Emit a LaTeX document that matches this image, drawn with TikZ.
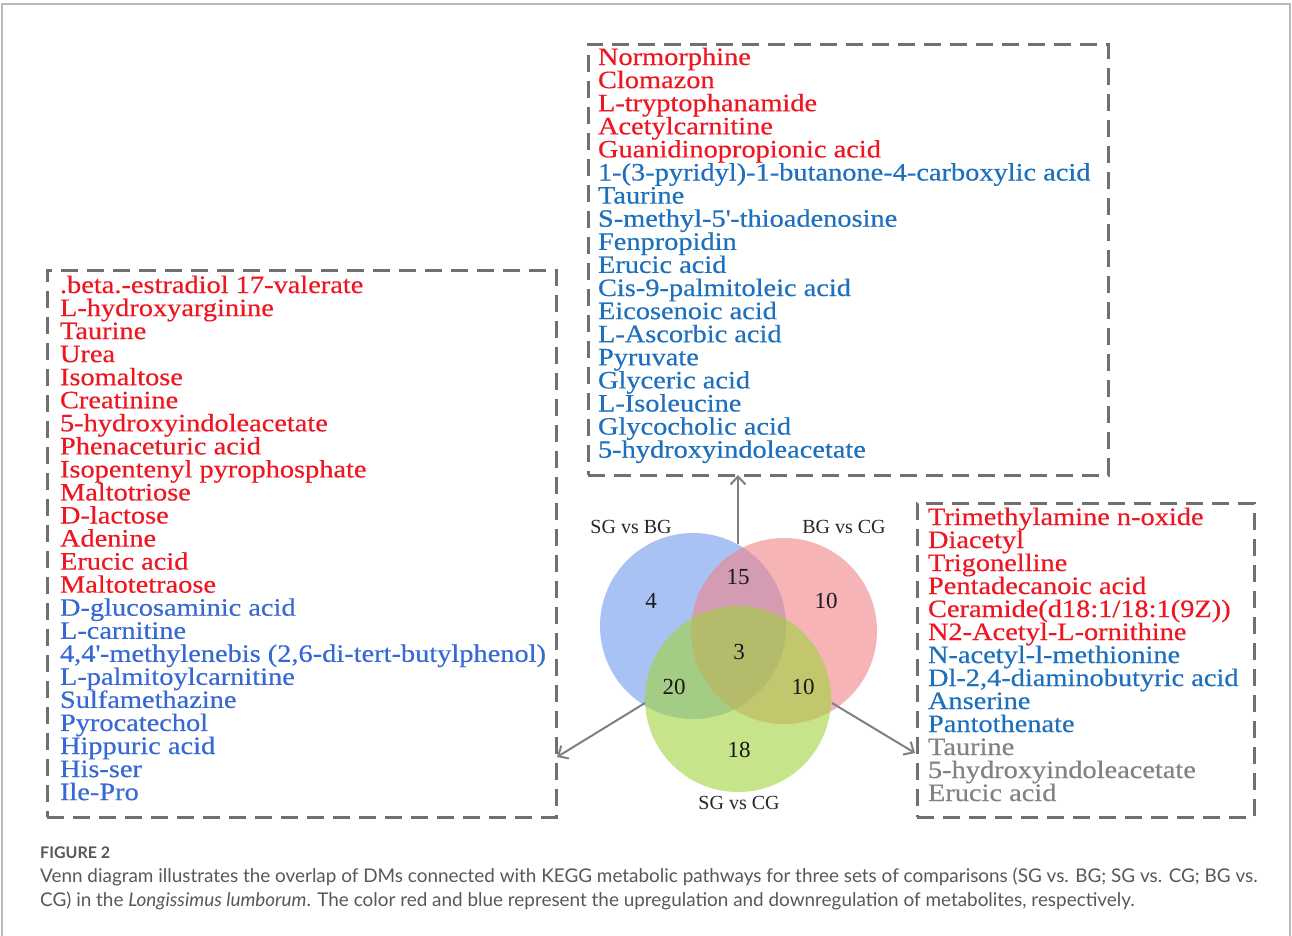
\documentclass[tikz,border=0pt]{standalone}
\usepackage{fontspec}
\setmainfont{Liberation Serif}
\newfontfamily\listfont[FakeStretch=1.135,FakeBold=0.4]{Liberation Serif}
\newfontfamily\capfont{Lato}
\usetikzlibrary{arrows.meta}
\definecolor{upred}{RGB}{238,22,32}
\definecolor{dnblue}{RGB}{28,112,190}
\definecolor{dnblueL}{RGB}{55,105,212}
\definecolor{txtgray}{RGB}{130,130,130}
\definecolor{boxgray}{RGB}{112,112,112}
\definecolor{arrgray}{RGB}{128,128,128}
\definecolor{framegray}{RGB}{185,185,185}
\definecolor{capgray}{RGB}{88,88,88}
\definecolor{vblue}{RGB}{110,155,235}
\definecolor{vred}{RGB}{240,130,135}
\definecolor{vgreen}{RGB}{160,210,60}
\tikzset{
  dbox/.style={draw=boxgray, line width=3pt, dash pattern=on 17pt off 9pt, inner sep=0pt, outer sep=0pt, anchor=north west},
  lst/.style={font=\listfont\fontsize{25}{25}\selectfont, inner sep=0pt, outer sep=0pt, anchor=base west},
  vlab/.style={font=\fontsize{20}{20}\selectfont, text=black!85, inner sep=0pt},
  vnum/.style={font=\fontsize{23}{23}\selectfont, text=black!90, inner sep=0pt},
  arr/.style={draw=arrgray, line width=2pt, -{Straight Barb[length=8pt,width=15pt,line width=2pt]}},
  capt/.style={font=\capfont\fontsize{18.9}{18.9}\selectfont, text=capgray, inner sep=0pt, anchor=base west}
}
\begin{document}
\begin{tikzpicture}[x=1pt,y=-1pt]
\useasboundingbox (0,0) rectangle (1292,935);
\clip (0,0) rectangle (1292,935);
\fill[white] (0,0) rectangle (1292,935);
\draw[framegray, line width=1.5pt] (2,4) rectangle (1290,960);

% boxes
\node[dbox, minimum width=520pt, minimum height=431pt] (topbox) at (588,44) {};
\node[dbox, minimum width=509pt, minimum height=547pt] (leftbox) at (47,270) {};
\node[dbox, minimum width=337pt, minimum height=314pt] (rightbox) at (917,503) {};

% top list
\foreach \c/\t [count=\i] in {
 upred/Normorphine, upred/Clomazon, upred/L-tryptophanamide, upred/Acetylcarnitine,
 upred/Guanidinopropionic acid, dnblue/1-(3-pyridyl)-1-butanone-4-carboxylic acid,
 dnblue/Taurine, dnblue/S-methyl-5\textquotesingle-thioadenosine, dnblue/Fenpropidin,
 dnblue/Erucic acid, dnblue/Cis-9-palmitoleic acid, dnblue/Eicosenoic acid,
 dnblue/L-Ascorbic acid, dnblue/Pyruvate, dnblue/Glyceric acid, dnblue/L-Isoleucine,
 dnblue/Glycocholic acid, dnblue/5-hydroxyindoleacetate}
 \node[lst, text=\c] (top\i) at (598,{65+23.1*(\i-1)}) {\t};

% left list
\foreach \c/\t [count=\i] in {
 upred/.beta.-estradiol 17-valerate, upred/L-hydroxyarginine, upred/Taurine, upred/Urea,
 upred/Isomaltose, upred/Creatinine, upred/5-hydroxyindoleacetate, upred/Phenaceturic acid,
 upred/Isopentenyl pyrophosphate, upred/Maltotriose, upred/D-lactose, upred/Adenine,
 upred/Erucic acid, upred/Maltotetraose, dnblueL/D-glucosaminic acid, dnblueL/L-carnitine,
 dnblueL/{4,4\textquotesingle-methylenebis (2,6-di-tert-butylphenol)},
 dnblueL/L-palmitoylcarnitine, dnblueL/Sulfamethazine, dnblueL/Pyrocatechol,
 dnblueL/Hippuric acid, dnblueL/His-ser, dnblueL/Ile-Pro}
 \node[lst, text=\c] (left\i) at (60,{293+23.05*(\i-1)}) {\t};

% right list
\foreach \c/\t [count=\i] in {
 upred/Trimethylamine n-oxide, upred/Diacetyl, upred/Trigonelline, upred/Pentadecanoic acid,
 upred/{Ceramide(d18:1/18:1(9Z))}, upred/N2-Acetyl-L-ornithine,
 dnblue/N-acetyl-l-methionine, dnblue/{Dl-2,4-diaminobutyric acid}, dnblue/Anserine,
 dnblue/Pantothenate, txtgray/Taurine, txtgray/5-hydroxyindoleacetate, txtgray/Erucic acid}
 \node[lst, text=\c] (right\i) at (928,{525+23*(\i-1)}) {\t};

% venn
\fill[vblue, fill opacity=0.6] (693,626) circle (93);
\fill[vred, fill opacity=0.6] (784,631) circle (93);
\fill[vgreen, fill opacity=0.6] (738,699) circle (93);

\node[vlab] (lab1) at (631,527) {SG vs BG};
\node[vlab] (lab2) at (844,527) {BG vs CG};
\node[vlab] (lab3) at (739,803) {SG vs CG};

\node[vnum] (n4) at (651,601) {4};
\node[vnum] (n15) at (738,577) {15};
\node[vnum] (n10a) at (826,601) {10};
\node[vnum] (n3) at (739,652) {3};
\node[vnum] (n20) at (674,687) {20};
\node[vnum] (n10b) at (803,687) {10};
\node[vnum] (n18) at (739,750) {18};

% arrows
\coordinate (pTop) at (738,544);
\coordinate (pL) at (645,703);
\coordinate (pR) at (832,703);
\coordinate (tL) at (557,757);
\coordinate (tR) at (915,753);
\draw[arr] (pTop) -- (pTop |- topbox.south);
\draw[arr] (pL) -- (tL);
\draw[arr] (pR) -- (tR);

% caption
\node[capt, font=\capfont\bfseries\fontsize{16}{16}\selectfont] (fig) at (40,858) {FIGURE 2};
\node[capt] (cap1) at (40,882) {Venn diagram illustrates the overlap of DMs connected with KEGG metabolic pathways for three sets of comparisons (SG vs. BG; SG vs. CG; BG vs.};
\node[capt] (cap2) at (40,906) {CG) in the \textit{Longissimus lumborum}. The color red and blue represent the upregulation and downregulation of metabolites, respectively.};
\end{tikzpicture}
\end{document}
